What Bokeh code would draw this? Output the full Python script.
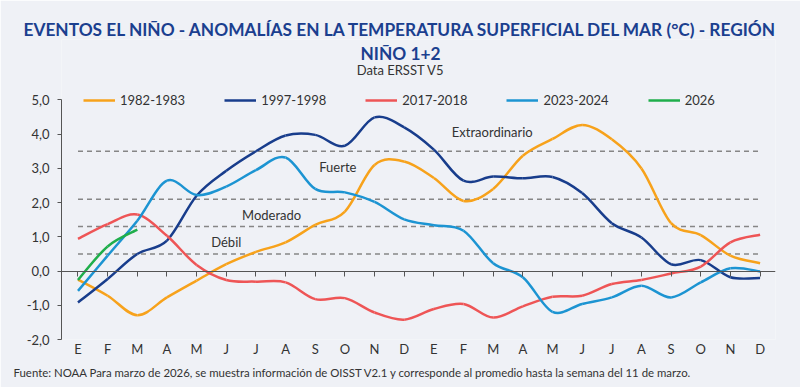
import numpy as np
from bokeh.plotting import figure
from bokeh.models import Range1d, FixedTicker, LinearAxis, Label, Legend, LegendItem, Title
from bokeh.embed import file_html
from bokeh.resources import INLINE

# ---------------- data ----------------
months = ["E", "F", "M", "A", "M", "J", "J", "A", "S", "O", "N", "D",
          "E", "F", "M", "A", "M", "J", "J", "A", "S", "O", "N", "D"]
series_names = ["1982-1983", "1997-1998", "2017-2018", "2023-2024", "2026"]
y1982 = [-0.25, -0.72, -1.29, -0.77, -0.28, 0.20, 0.56, 0.84, 1.35, 1.74, 3.10, 3.20,
         2.72, 2.05, 2.40, 3.37, 3.86, 4.27, 3.85, 3.00, 1.40, 1.05, 0.45, 0.23]
y1997 = [-0.92, -0.23, 0.50, 0.89, 2.20, 2.93, 3.50, 3.96, 3.98, 3.66, 4.49, 4.20,
         3.55, 2.64, 2.76, 2.71, 2.75, 2.28, 1.40, 0.98, 0.20, 0.32, -0.18, -0.20]
y2017 = [0.94, 1.37, 1.65, 1.03, 0.18, -0.26, -0.31, -0.33, -0.82, -0.79, -1.21, -1.42,
         -1.11, -0.96, -1.36, -1.03, -0.75, -0.72, -0.38, -0.26, -0.07, 0.13, 0.84, 1.06]
y2023 = [-0.58, 0.45, 1.47, 2.64, 2.22, 2.47, 2.95, 3.32, 2.40, 2.30, 2.02, 1.51,
         1.34, 1.18, 0.23, -0.18, -1.19, -0.96, -0.77, -0.43, -0.77, -0.33, 0.08, -0.01]
y2026 = [-0.26, 0.72, 1.21]
series_values = [y1982, y1997, y2017, y2023, y2026]
series_colors = ["#F7A21B", "#183D8C", "#EE5556", "#1C94D2", "#1FAE4B"]

thresholds = [0.5, 1.3, 2.1, 3.5]
threshold_labels = ["Débil", "Moderado", "Fuerte", "Extraordinario"]
y_ticks = [-2, -1, 0, 1, 2, 3, 4, 5]

title_text = "EVENTOS EL NIÑO - ANOMALÍAS EN LA TEMPERATURA SUPERFICIAL DEL MAR (°C) - REGIÓN"
title_text2 = "NIÑO 1+2"
subtitle_text = "Data ERSST V5"
footer_text = ("Fuente: NOAA Para marzo de 2026, se muestra información de OISST V2.1 "
               "y corresponde al promedio hasta la semana del 11 de marzo.")

FONT = "Lato"
BG = "#EFF1F6"
TXT = "#333333"
AXC = "#555555"
TITLE_C = "#1B3F8F"
W, H = 800, 387
LEFT, RIGHT, TOP, BOTTOM = 61, 25, 39, 48

p = figure(width=W, height=H, output_backend="svg", toolbar_location=None,
           x_range=Range1d(-0.556, 23.52), y_range=Range1d(-2, 6.767),
           min_border_left=LEFT, min_border_right=RIGHT, min_border_top=TOP,
           min_border_bottom=BOTTOM,
           background_fill_color=BG, border_fill_color=BG, outline_line_color=None)
p.grid.visible = False

xa = p.xaxis[0]
xa.ticker = FixedTicker(ticks=list(range(len(months))))
xa.major_label_overrides = {i: m for i, m in enumerate(months)}
xa.axis_line_color = None
xa.major_tick_line_color = None
xa.major_tick_out = 0
xa.major_tick_in = 0
xa.minor_tick_line_color = None
xa.minor_tick_out = 0
xa.major_label_standoff = 1
xa.major_label_text_font = FONT
xa.major_label_text_font_size = "13px"
xa.major_label_text_color = TXT

ya = p.yaxis[0]
ya.ticker = FixedTicker(ticks=y_ticks)
ya.major_label_overrides = {v: f"{v:.1f}".replace(".", ",") for v in y_ticks}
ya.bounds = (y_ticks[0], y_ticks[-1])
ya.axis_line_color = AXC
ya.major_tick_line_color = AXC
ya.major_tick_out = 4
ya.major_tick_in = 0
ya.minor_tick_line_color = None
ya.major_label_standoff = 8
ya.major_label_text_font = FONT
ya.major_label_text_font_size = "13px"
ya.major_label_text_color = TXT

# zero line with month ticks pointing down
zax = LinearAxis(fixed_location=0, ticker=FixedTicker(ticks=list(range(len(months)))),
                 major_tick_in=5, major_tick_out=0, minor_tick_line_color=None,
                 axis_line_color=AXC, major_tick_line_color=AXC,
                 major_label_overrides={i: "" for i in range(len(months))},
                 major_label_standoff=0, major_label_text_font_size="1px")
p.add_layout(zax, "above")

# main title line (side panel, not clipped)
p.add_layout(Title(text=title_text, align="left", offset=23 - LEFT, standoff=0,
                   text_font=FONT, text_font_size="17.3px", text_font_style="bold",
                   text_color=TITLE_C), "above")
# footer
p.add_layout(Title(text=footer_text, align="left", offset=13 - LEFT, standoff=8,
                   text_font=FONT, text_font_size="11.4px", text_font_style="normal",
                   text_color=TXT), "below")

# second title line and subtitle (inside the frame, screen units from frame bottom-left)
frame_bottom = H - BOTTOM
p.add_layout(Label(x=W / 2 - LEFT, y=frame_bottom - 53, x_units="screen", y_units="screen",
                   text=title_text2, text_align="center", text_baseline="alphabetic",
                   text_font=FONT, text_font_style="bold", text_font_size="17.3px",
                   text_color=TITLE_C))
p.add_layout(Label(x=W / 2 - LEFT, y=frame_bottom - 69.5, x_units="screen", y_units="screen",
                   text=subtitle_text, text_align="center", text_baseline="alphabetic",
                   text_font=FONT, text_font_size="13px", text_color=TXT))

n = len(months)
p.segment(x0=[0] * len(thresholds), x1=[n - 1] * len(thresholds),
          y0=thresholds, y1=thresholds, line_color="#868686", line_width=1.5,
          line_dash="5 4")

label_pos = [(5.0, 0.86), (6.53, 1.64), (8.76, 3.05), (13.97, 4.05)]
for (lx, ly), t in zip(label_pos, threshold_labels):
    p.add_layout(Label(x=lx, y=ly, text=t, text_align="center", text_baseline="middle",
                       text_font=FONT, text_font_size="13px", text_color=TXT))


def bezier_parts(ys):
    y = np.asarray(ys, dtype=float)
    m = len(y)
    x = np.arange(m, dtype=float)
    xp = np.concatenate([[x[0]], x, [x[-1]]])
    yp = np.concatenate([[y[0]], y, [y[-1]]])
    cx0 = x[:-1] + (xp[2:m + 1] - xp[0:m - 1]) / 6.0
    cy0 = y[:-1] + (yp[2:m + 1] - yp[0:m - 1]) / 6.0
    cx1 = x[1:] - (xp[3:m + 2] - xp[1:m]) / 6.0
    cy1 = y[1:] - (yp[3:m + 2] - yp[1:m]) / 6.0
    return dict(x0=x[:-1], y0=y[:-1], x1=x[1:], y1=y[1:], cx0=cx0, cy0=cy0, cx1=cx1, cy1=cy1)


items = []
for name, vals, col in zip(series_names, series_values, series_colors):
    r = p.bezier(line_color=col, line_width=2.5, **bezier_parts(vals))
    items.append(LegendItem(label=name, renderers=[r]))

legend = Legend(items=items, orientation="horizontal", location=(22, 231),
                padding=0, spacing=39, margin=0, glyph_width=32, glyph_height=16,
                label_height=16, label_standoff=5, label_text_font=FONT,
                label_text_font_size="13px", label_text_color=TXT,
                background_fill_alpha=0, border_line_alpha=0)
p.add_layout(legend, "center")

open("out.html", "w").write(file_html(p, INLINE))
